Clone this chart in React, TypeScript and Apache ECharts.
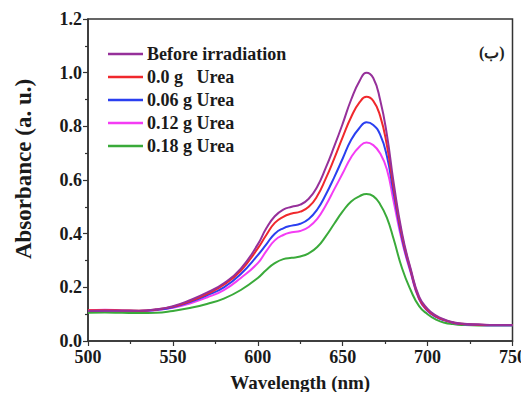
import React, { useEffect, useRef } from "react";
import * as echarts from "echarts";

const wavelengths = [500, 510, 520, 530, 540, 550, 560, 570, 580, 590, 600, 605, 610, 615, 620, 625, 630, 635, 640, 645, 650, 655, 660, 664, 668, 672, 676, 680, 685, 690, 695, 700, 705, 710, 715, 720, 730, 740, 750];

const beforeIrradiation = [0.112, 0.113, 0.113, 0.113, 0.118, 0.13, 0.152, 0.18, 0.215, 0.27, 0.36, 0.42, 0.465, 0.49, 0.5, 0.508, 0.53, 0.575, 0.645, 0.725, 0.81, 0.9, 0.97, 1.0, 0.98, 0.9, 0.77, 0.59, 0.4, 0.27, 0.165, 0.12, 0.095, 0.08, 0.07, 0.065, 0.062, 0.06, 0.06];
const urea00 = [0.115, 0.115, 0.114, 0.113, 0.117, 0.128, 0.148, 0.175, 0.21, 0.262, 0.345, 0.395, 0.44, 0.463, 0.475, 0.482, 0.5, 0.54, 0.605, 0.68, 0.76, 0.835, 0.89, 0.91, 0.895, 0.84, 0.73, 0.57, 0.39, 0.265, 0.16, 0.115, 0.092, 0.078, 0.069, 0.064, 0.061, 0.06, 0.06];
const urea006 = [0.112, 0.113, 0.113, 0.112, 0.116, 0.126, 0.145, 0.17, 0.2, 0.25, 0.32, 0.36, 0.4, 0.42, 0.43, 0.437, 0.455, 0.49, 0.545, 0.61, 0.68, 0.75, 0.795, 0.815, 0.805, 0.77, 0.69, 0.55, 0.38, 0.26, 0.158, 0.113, 0.09, 0.077, 0.068, 0.063, 0.06, 0.059, 0.059];
const urea012 = [0.115, 0.116, 0.114, 0.112, 0.115, 0.124, 0.14, 0.162, 0.19, 0.235, 0.29, 0.335, 0.375, 0.395, 0.405, 0.41, 0.425, 0.455, 0.505, 0.565, 0.625, 0.685, 0.725, 0.74, 0.73, 0.7, 0.64, 0.52, 0.37, 0.255, 0.155, 0.112, 0.09, 0.077, 0.068, 0.063, 0.06, 0.059, 0.059];
const urea018 = [0.105, 0.106, 0.105, 0.104, 0.105, 0.112, 0.123, 0.138, 0.158, 0.19, 0.235, 0.265, 0.29, 0.305, 0.31, 0.315, 0.327, 0.35, 0.39, 0.437, 0.483, 0.52, 0.54, 0.548, 0.54, 0.51, 0.46, 0.38, 0.27, 0.19, 0.13, 0.1, 0.08, 0.068, 0.063, 0.06, 0.058, 0.058, 0.058];

const seriesNames = ["Before irradiation", "0.0 g   Urea", "0.06 g Urea", "0.12 g Urea", "0.18 g Urea"];
const seriesColors = ["#96309a", "#f0282c", "#2a3ff0", "#f43cf4", "#3aaa3a"];
const seriesData = [beforeIrradiation, urea00, urea006, urea012, urea018];

const xAxisTitle = "Wavelength (nm)";
const yAxisTitle = "Absorbance (a. u.)";
const panelLabel = "(ب)";

const FONT = "'Liberation Serif', 'Times New Roman', serif";

export default function App() {
  const ref = useRef<HTMLDivElement>(null);
  useEffect(() => {
    if (!ref.current) return;
    const chart = echarts.init(ref.current, null, { renderer: "svg" });
    chart.setOption({
      animation: false,
      backgroundColor: "#ffffff",
      grid: {
        left: 88,
        right: 15,
        top: 19,
        bottom: 59,
        show: true,
        borderColor: "#333",
        borderWidth: 1.5,
      },
      legend: {
        orient: "vertical",
        left: 108,
        top: 45,
        padding: 0,
        icon: "rect",
        itemWidth: 35,
        itemHeight: 2.5,
        itemGap: 5,
        data: seriesNames,
        textStyle: {
          fontFamily: FONT,
          fontWeight: "bold",
          fontSize: 18,
          color: "#1a1a1a",
          lineHeight: 18,
          padding: [0, 0, 0, -1],
        },
      },
      graphic: [
        {
          type: "text",
          left: 479,
          top: 44,
          style: {
            text: panelLabel,
            fontFamily: FONT,
            fontWeight: "bold",
            fontSize: 16,
            fill: "#222",
          },
        },
        {
          type: "text",
          x: 23,
          y: 169,
          rotation: Math.PI / 2,
          style: {
            text: yAxisTitle,
            fontFamily: FONT,
            fontWeight: "bold",
            fontSize: 23,
            fill: "#1a1a1a",
            align: "center",
            verticalAlign: "middle",
          },
        },
      ],
      xAxis: {
        type: "value",
        min: 500,
        max: 750,
        interval: 50,
        name: xAxisTitle,
        nameLocation: "middle",
        nameGap: 32,
        nameTextStyle: { fontFamily: FONT, fontWeight: "bold", fontSize: 19, color: "#1a1a1a" },
        axisLine: { lineStyle: { color: "#333", width: 1.5 } },
        axisTick: { show: true, length: 5, lineStyle: { color: "#333", width: 1.2 } },
        minorTick: { show: true, splitNumber: 2, length: 3, lineStyle: { color: "#333", width: 1.2 } },
        splitLine: { show: false },
        axisLabel: { fontFamily: FONT, fontWeight: "bold", fontSize: 18, color: "#1a1a1a", margin: 7 },
      },
      yAxis: {
        type: "value",
        min: 0,
        max: 1.2,
        interval: 0.2,
        axisLine: { lineStyle: { color: "#333", width: 1.5 } },
        axisTick: { show: true, length: 5, lineStyle: { color: "#333", width: 1.2 } },
        minorTick: { show: true, splitNumber: 2, length: 3, lineStyle: { color: "#333", width: 1.2 } },
        splitLine: { show: false },
        axisLabel: {
          fontFamily: FONT,
          fontWeight: "bold",
          fontSize: 18,
          color: "#1a1a1a",
          margin: 6,
          formatter: (v: number) => v.toFixed(1),
        },
      },
      series: seriesNames.map((name, i) => ({
        name,
        type: "line",
        smooth: true,
        showSymbol: false,
        symbol: "none",
        data: wavelengths.map((w, j) => [w, seriesData[i][j]]),
        lineStyle: { color: seriesColors[i], width: 2 },
        itemStyle: { color: seriesColors[i] },
        z: 10 - i,
      })),
    });
    return () => chart.dispose();
  }, []);
  return <div ref={ref} style={{ width: 529, height: 400, margin: -8 }} />;
}
